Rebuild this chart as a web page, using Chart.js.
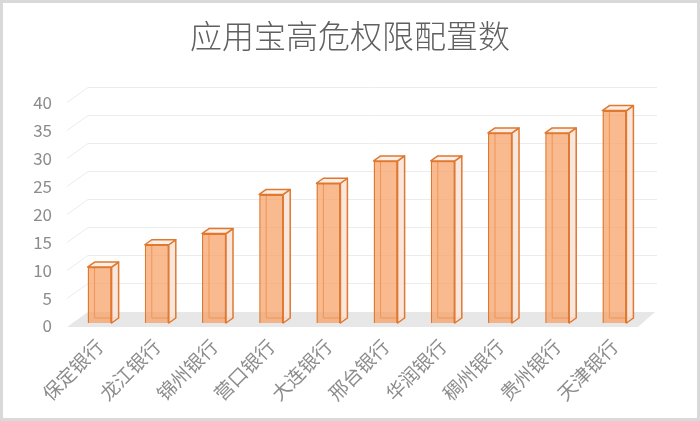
<!DOCTYPE html>
<html>
<head>
<meta charset="utf-8">
<script src="https://cdn.jsdelivr.net/npm/chart.js@4.4.1/dist/chart.umd.min.js"></script>
<style>
  html, body { margin: 0; padding: 0; background: #fff; }
  #wrap { width: 700px; height: 421px; }
</style>
</head>
<body>
<div id="wrap"><canvas id="chart" width="700" height="421"></canvas></div>
<script>
const banks = ['保定银行', '龙江银行', '锦州银行', '营口银行', '大连银行', '邢台银行', '华润银行', '稠州银行', '贵州银行', '天津银行']
const permCounts = [10, 14, 16, 23, 25, 29, 29, 34, 34, 38]
const yTicks = [0, 5, 10, 15, 20, 25, 30, 35, 40]

const FONT = '"Noto Sans CJK SC", "Noto Sans", sans-serif'
const EDGE = '#e0782f'
const DX = 7, DY = 5   // bar depth

// frame, floor, back-wall grid and hidden bar edges
const wall3d = {
    id: 'wall3d',
    beforeDraw(chart) {
        const ctx = chart.ctx
        ctx.save()
        ctx.fillStyle = '#fff'
        ctx.fillRect(0, 0, chart.width, chart.height)
        ctx.strokeStyle = '#d9d9d9'
        ctx.lineWidth = 3
        ctx.strokeRect(1.5, 1.5, chart.width - 3, chart.height - 3)
        ctx.restore()
    },
    beforeDatasetsDraw(chart) {
        const ctx = chart.ctx
        const { left, right } = chart.chartArea
        const y = chart.scales.y
        const base = y.getPixelForValue(0)
        ctx.save()
        // floor
        ctx.fillStyle = '#e7e7e7'
        ctx.beginPath()
        ctx.moveTo(left - 4, base + 4)
        ctx.lineTo(right - 5, base + 4)
        ctx.lineTo(right + 12, base - 11)
        ctx.lineTo(left + 17, base - 11)
        ctx.closePath()
        ctx.fill()
        // grid
        ctx.strokeStyle = '#ececec'
        ctx.lineWidth = 1
        yTicks.forEach(v => {
            if (v === 0) return
            const p = Math.round(y.getPixelForValue(v)) + 0.5
            ctx.beginPath()
            ctx.moveTo(left - 4, p + 3)
            ctx.lineTo(left + 17, p - 12)
            ctx.lineTo(right + 14, p - 12)
            ctx.stroke()
        })
        // hidden edges of the boxes
        ctx.strokeStyle = EDGE
        ctx.lineWidth = 1
        chart.getDatasetMeta(0).data.forEach(bar => {
            const x0 = bar.x - bar.width / 2
            ctx.beginPath()
            ctx.moveTo(x0 + DX, bar.y - DY)
            ctx.lineTo(x0 + DX, bar.base - DY)
            ctx.lineTo(x0 + bar.width + DX, bar.base - DY)
            ctx.stroke()
        })
        ctx.restore()
    },
    afterDatasetsDraw(chart) {
        const ctx = chart.ctx
        ctx.save()
        ctx.strokeStyle = EDGE
        ctx.lineWidth = 1.5
        ctx.lineJoin = 'round'
        chart.getDatasetMeta(0).data.forEach(bar => {
            const x0 = bar.x - bar.width / 2
            const x1 = bar.x + bar.width / 2
            const top = bar.y, base = bar.base
            // side
            ctx.fillStyle = 'rgba(248,226,214,0.85)'
            ctx.beginPath()
            ctx.moveTo(x1, top)
            ctx.lineTo(x1 + DX, top - DY)
            ctx.lineTo(x1 + DX, base - DY)
            ctx.lineTo(x1, base)
            ctx.closePath()
            ctx.fill()
            ctx.stroke()
            // top
            ctx.fillStyle = 'rgba(251,236,228,0.9)'
            ctx.beginPath()
            ctx.moveTo(x0, top)
            ctx.lineTo(x0 + DX, top - DY)
            ctx.lineTo(x1 + DX, top - DY)
            ctx.lineTo(x1, top)
            ctx.closePath()
            ctx.fill()
            ctx.stroke()
        })
        ctx.restore()
    }
}

new Chart(document.getElementById('chart'), {
    type: 'bar',
    data: {
        labels: banks,
        datasets: [{
            data: permCounts,
            backgroundColor: 'rgba(246,160,100,0.72)',
            borderColor: EDGE,
            borderWidth: 1.5,
            barPercentage: 0.42,
            categoryPercentage: 1
        }]
    },
    options: {
        responsive: false,
        animation: false,
        layout: { padding: 0 },
        plugins: {
            legend: { display: false },
            tooltip: { enabled: false },
            title: {
                display: true,
                text: '应用宝高危权限配置数',
                color: '#606060',
                font: { family: FONT, size: 32, weight: 300 },
                padding: { top: 17, bottom: 44 }
            }
        },
        scales: {
            x: {
                grid: { display: false, drawTicks: false },
                border: { display: false },
                ticks: {
                    color: '#8c8c8c',
                    font: { family: FONT, size: 19 },
                    minRotation: 45,
                    maxRotation: 45,
                    padding: 12
                },
                afterFit(scale) { scale.height = 98 }
            },
            y: {
                min: 0,
                max: 40,
                grid: { display: false, drawTicks: false },
                border: { display: false },
                afterBuildTicks(scale) { scale.ticks = yTicks.map(v => ({ value: v })) },
                ticks: {
                    color: '#8c8c8c',
                    font: { family: FONT, size: 17 },
                    padding: 19,
                    labelOffset: 3
                },
                afterFit(scale) { scale.width = 71 }
            },
            // empty right-hand axis, only reserves the right margin
            yRight: {
                position: 'right',
                min: 0,
                max: 40,
                grid: { display: false, drawTicks: false },
                border: { display: false },
                ticks: { display: false },
                afterFit(scale) { scale.width = 57 }
            }
        }
    },
    plugins: [wall3d]
})
</script>
</body>
</html>
